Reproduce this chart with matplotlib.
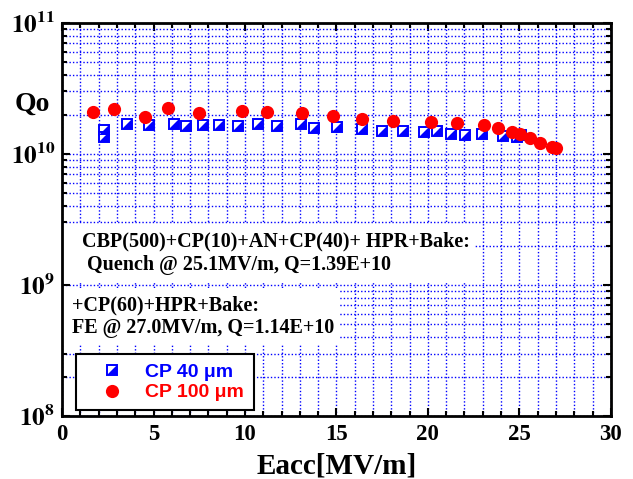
import matplotlib
matplotlib.use('Agg')
import matplotlib.pyplot as plt
from matplotlib.patches import Rectangle
from matplotlib.ticker import MultipleLocator, LogLocator, NullFormatter

# CP 40 um run (blue half-filled squares)
e_cp40 = [2.30, 2.30, 3.54, 4.77, 6.14, 6.78, 7.72, 8.60, 9.60, 10.69, 11.76,
          13.05, 13.75, 15.04, 16.41, 17.47, 18.62, 19.78, 20.48, 21.24,
          22.02, 22.93, 24.08, 24.85, 25.10]
q_cp40 = [1.52e10, 1.35e10, 1.69e10, 1.66e10, 1.69e10, 1.64e10, 1.66e10,
          1.66e10, 1.64e10, 1.69e10, 1.64e10, 1.69e10, 1.59e10, 1.61e10,
          1.55e10, 1.51e10, 1.51e10, 1.47e10, 1.51e10, 1.42e10, 1.40e10,
          1.42e10, 1.37e10, 1.36e10, 1.39e10]

# CP 100 um run (red circles)
e_cp100 = [1.71, 2.86, 4.55, 5.81, 7.49, 9.85, 11.22, 13.14, 14.81, 16.38,
           18.10, 20.15, 21.57, 23.08, 23.81, 24.61, 25.03, 25.57, 26.12,
           26.80, 27.00]
q_cp100 = [2.08e10, 2.19e10, 1.93e10, 2.26e10, 2.05e10, 2.14e10, 2.08e10,
           2.05e10, 1.94e10, 1.85e10, 1.80e10, 1.75e10, 1.72e10, 1.66e10,
           1.59e10, 1.47e10, 1.41e10, 1.32e10, 1.22e10, 1.13e10, 1.12e10]

y_ticks = [1e8, 1e9, 1e10, 1e11]
y_ticklabels = [r'$\mathbf{10^{8}}$', r'$\mathbf{10^{9}}$',
                r'$\mathbf{10^{10}}$', r'$\mathbf{10^{11}}$']
legend_labels = ['CP 40 \u03bcm', 'CP 100 \u03bcm']
note1 = ['CBP(500)+CP(10)+AN+CP(40)+ HPR+Bake:',
         'Quench @ 25.1MV/m, Q=1.39E+10']
note2 = ['+CP(60)+HPR+Bake:', 'FE @ 27.0MV/m, Q=1.14E+10']

plt.rcParams['mathtext.fontset'] = 'stix'
serif = 'Liberation Serif'

fig = plt.figure(figsize=(6.33, 4.79), dpi=100)
ax = fig.add_axes([0.098, 0.1315, 0.867, 0.8205])

ax.set_yscale('log')
ax.set_xlim(0, 30)
ax.set_ylim(1e8, 1e11)

ax.xaxis.set_major_locator(MultipleLocator(5))
ax.xaxis.set_minor_locator(MultipleLocator(1))
ax.yaxis.set_minor_locator(LogLocator(base=10, subs=range(2, 10)))
ax.yaxis.set_minor_formatter(NullFormatter())
ax.set_yticks(y_ticks)
ax.set_yticklabels(y_ticklabels, fontsize=18)
for lab in ax.get_xticklabels():
    lab.set_fontfamily(serif)
    lab.set_fontweight('bold')
    lab.set_fontsize(16.5)

ax.grid(True, which='both', color='blue', linestyle=(0, (1, 1.5)), linewidth=1)
ax.set_axisbelow(True)
ax.tick_params(which='both', direction='in', top=True, right=True, width=1.5)
ax.tick_params(which='major', length=6)
ax.tick_params(which='minor', length=3.5)
ax.tick_params(axis='y', pad=5)
ax.tick_params(axis='x', pad=6)
for sp in ax.spines.values():
    sp.set_linewidth(2)

# white boxes behind the notes
ax.add_patch(Rectangle((0, 0.338), 0.75, 0.151, transform=ax.transAxes,
                       facecolor='white', edgecolor='none', zorder=2))
ax.add_patch(Rectangle((0, 0.181), 0.506, 0.145, transform=ax.transAxes,
                       facecolor='white', edgecolor='none', zorder=2))

sq, = ax.plot(e_cp40, q_cp40, ls='none', marker='s', ms=7, mfc='white',
              mec='blue', mew=1.4, zorder=3)
tri, = ax.plot(e_cp40, q_cp40, ls='none', marker=[(-1, -1), (1, -1), (1, 1)],
               ms=7, color='blue', mew=0, zorder=3)
red, = ax.plot(e_cp100, q_cp100, ls='none', marker='o', ms=9.5, color='red',
               mew=0, zorder=4)

tf = dict(fontfamily=serif, fontweight='bold', fontsize=14.5,
          transform=ax.transAxes, va='center', zorder=5)
ax.text(0.036, 0.443, note1[0], **tf)
ax.text(0.046, 0.384, note1[1], **tf)
ax.text(0.018, 0.282, note2[0], **tf)
ax.text(0.018, 0.224, note2[1], **tf)

leg = ax.legend([(sq, tri), red], legend_labels, loc='lower left',
                bbox_to_anchor=(0.0255, 0.015, 0.324, 0.16), mode='expand',
                borderaxespad=0, fancybox=False, framealpha=1,
                edgecolor='black', borderpad=0.45, handlelength=2.8,
                handletextpad=0.3, labelspacing=0.15,
                prop=dict(family='Liberation Sans', weight='bold', size=14))
leg.get_frame().set_linewidth(1.5)
leg.set_zorder(6)
for t, c in zip(leg.get_texts(), ['blue', 'red']):
    t.set_color(c)

ax.set_xlabel('Eacc[MV/m]', fontfamily=serif, fontweight='bold', fontsize=21,
              labelpad=5)
fig.text(32 / 633, 1 - 104 / 479, 'Qo', fontfamily=serif, fontweight='bold',
         fontsize=20, ha='center', va='center')

fig.savefig('out.png', dpi=100)
